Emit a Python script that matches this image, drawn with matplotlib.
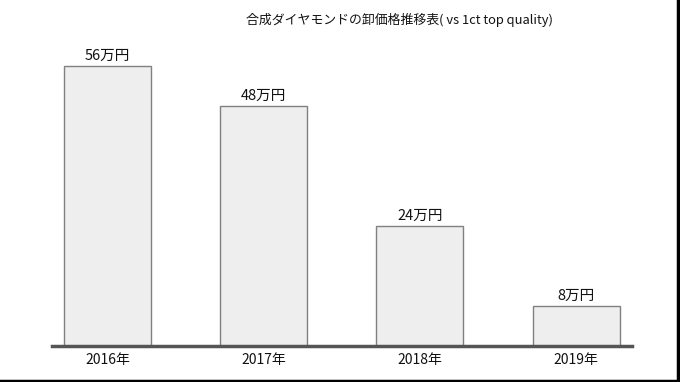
import matplotlib.pyplot as plt
from matplotlib.lines import Line2D

plt.rcParams['font.family'] = ['Noto Sans CJK JP', 'DejaVu Sans']

years = ["2016年", "2017年", "2018年", "2019年"]
prices = [56, 48, 24, 8]  # 万円
price_labels = ["56万円", "48万円", "24万円", "8万円"]
title = "合成ダイヤモンドの卸価格推移表( vs 1ct top quality)"

fig = plt.figure(figsize=(6.8, 3.82), dpi=100)
ax = fig.add_axes([52 / 680, 36 / 382, 580 / 680, 316 / 382])

x = range(len(years))
ax.bar(x, prices, width=0.557, color="#eeeeee", edgecolor="#808080", linewidth=1)

for xi, v, lab in zip(x, prices, price_labels):
    ax.text(xi, v + 0.6, lab, ha="center", va="bottom", fontsize=10.5, color="#111111")

ax.set_xlim(-0.355, 3.358)
ax.set_ylim(0, 63.2)
ax.set_xticks(list(x))
ax.set_xticklabels(years, fontsize=10, color="#111111")
ax.tick_params(axis="x", length=0, pad=5)
ax.set_yticks([])
for s in ["top", "right", "left"]:
    ax.spines[s].set_visible(False)
ax.spines["bottom"].set_color("#555555")
ax.spines["bottom"].set_linewidth(2.5)

fig.text(400 / 680, 1 - 20 / 382, title, ha="center", va="center", fontsize=9.3, color="#111111")

# black frame on the right and bottom edges
fig.add_artist(Line2D([0, 1], [0.003, 0.003], transform=fig.transFigure, color="black", linewidth=2.5))
fig.add_artist(Line2D([0.997, 0.997], [0, 1], transform=fig.transFigure, color="black", linewidth=2.5))

fig.savefig("out.png", dpi=100)
